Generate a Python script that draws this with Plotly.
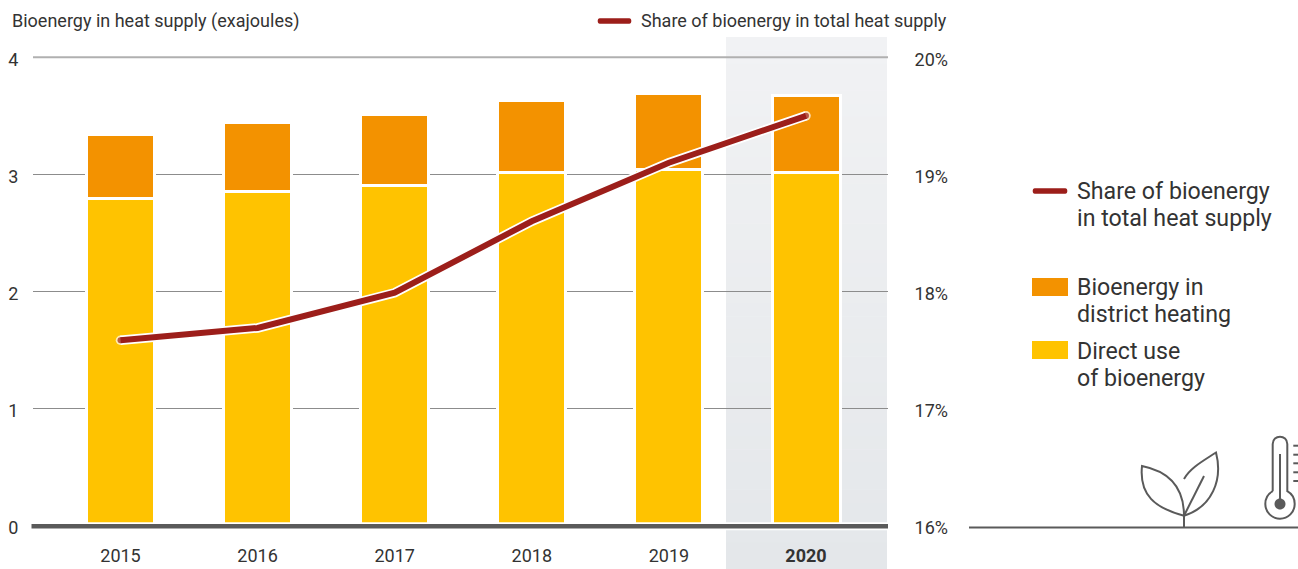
import plotly.graph_objects as go

years = ["2015", "2016", "2017", "2018", "2019", "2020"]
year_labels = ["2015", "2016", "2017", "2018", "2019", "<b>2020</b>"]
direct_use = [2.794, 2.858, 2.905, 3.02, 3.046, 3.02]
bio_total = [3.34, 3.443, 3.511, 3.63, 3.69, 3.673]
district = [round(t - d, 3) for t, d in zip(bio_total, direct_use)]
share = [17.585, 17.69, 17.99, 18.6, 19.1, 19.5]
left_ticks = [0, 1, 2, 3, 4]
right_ticks = [16, 17, 18, 19, 20]
right_labels = ["16%", "17%", "18%", "19%", "20%"]

ORANGE = "#F39200"
YELLOW = "#FFC300"
RED = "#9C1E1A"
TEXT = "#333333"
ICON = "#5A5A5A"
FONT = "Roboto"

W, H = 1298, 569
L, R, T, B = 33, 888, 37, 526
px = lambda x: (x - L) / (R - L)
py = lambda y: (B - y) / (B - T)


def path(fmt):
    """Convert an 'M x y C x y ...' pixel path to paper coordinates."""
    out, is_x = [], True
    for tok in fmt.split():
        if tok.isalpha():
            out.append(tok)
            is_x = True
        else:
            v = float(tok)
            out.append(f"{px(v) if is_x else py(v):.5f}")
            is_x = not is_x
    return " ".join(out)


def circle(cx, cy, r):
    k = 0.5523 * r
    return (f"M {cx-r} {cy} C {cx-r} {cy-k} {cx-k} {cy-r} {cx} {cy-r} "
            f"C {cx+k} {cy-r} {cx+r} {cy-k} {cx+r} {cy} "
            f"C {cx+r} {cy+k} {cx+k} {cy+r} {cx} {cy+r} "
            f"C {cx-k} {cy+r} {cx-r} {cy+k} {cx-r} {cy} Z")


fig = go.Figure()
bar_line = dict(color="white", width=3)
fig.add_bar(x=years, y=direct_use, marker=dict(color=YELLOW, line=bar_line), name="Direct use of bioenergy")
fig.add_bar(x=years, y=district, marker=dict(color=ORANGE, line=bar_line), name="Bioenergy in district heating")

ends = [1, 0, 0, 0, 0, 1]
fig.add_scatter(x=years, y=share, yaxis="y2", mode="lines+markers", showlegend=False,
                line=dict(color="white", width=9.5),
                marker=dict(color="white", size=[9.5 * e for e in ends], line=dict(width=0)))
fig.add_scatter(x=years, y=share, yaxis="y2", mode="lines+markers",
                name="Share of bioenergy in total heat supply",
                line=dict(color=RED, width=6),
                marker=dict(color=RED, size=[6 * e for e in ends], line=dict(width=0)))

shapes = []
# Highlight band for 2020 (vertical gradient built from thin slices)
n = 40
top_c, bot_c = (241, 242, 244), (228, 231, 234)
for i in range(n):
    t = i / (n - 1)
    c = tuple(round(a + (b - a) * t) for a, b in zip(top_c, bot_c))
    y0 = T + (569 - T) * i / n
    y1 = T + (569 - T) * (i + 1) / n + 0.5
    shapes.append(dict(type="rect", layer="below", xref="paper", yref="paper",
                       x0=px(726), x1=px(887), y0=py(y0), y1=py(min(y1, 569)),
                       fillcolor=f"rgb{c}", line=dict(width=0)))

# Top gridline and baseline
shapes.append(dict(type="line", layer="above", xref="paper", yref="y", x0=0, x1=1, y0=4, y1=4,
                   line=dict(color="#B0B0B0", width=2)))
shapes.append(dict(type="line", layer="above", xref="paper", yref="paper", x0=0, x1=1,
                   y0=py(526.3), y1=py(526.3), line=dict(color="white", width=8)))
shapes.append(dict(type="line", layer="above", xref="paper", yref="paper", x0=px(31.5), x1=1,
                   y0=py(526.3), y1=py(526.3), line=dict(color="#5A5A5A", width=4.5)))


def rounded_line(x0, x1, y, h):
    r = h / 2
    return (f"M {x0+r} {y-r} L {x1-r} {y-r} C {x1} {y-r} {x1} {y+r} {x1-r} {y+r} "
            f"L {x0+r} {y+r} C {x0} {y+r} {x0} {y-r} {x0+r} {y-r} Z")


for sw in (rounded_line(597, 632, 21, 5.5), rounded_line(1032, 1068, 191, 5.5)):
    shapes.append(dict(type="path", xref="paper", yref="paper", path=path(sw),
                       fillcolor=RED, line=dict(width=0)))
for y0, y1, col in ((278, 296, ORANGE), (341, 359, YELLOW)):
    shapes.append(dict(type="rect", xref="paper", yref="paper", x0=px(1032), x1=px(1068),
                       y0=py(y0), y1=py(y1), fillcolor=col, line=dict(width=0)))

# Ground line and icons
icon_line = dict(color=ICON, width=2)
icons = [
    "M 969 527.5 L 1298 527.5",
    "M 1184 528 L 1184 515.7",
    "M 1184 515.7 C 1184 490 1172 472 1142 466 C 1139 495 1155 508 1184 515.7",
    "M 1184 479 C 1190 468 1203 461 1216 452.5 C 1223 480 1212 507 1184 515.7",
    "M 1184 515.7 L 1204 476",
    "M 1272.7 491.2 L 1272.7 444 C 1272.7 434.3 1287.3 434.3 1287.3 444 L 1287.3 491.2 "
    "C 1291.9 493.8 1294.7 498.7 1294.7 504 C 1294.7 512.1 1288.1 518.7 1280 518.7 "
    "C 1271.9 518.7 1265.3 512.1 1265.3 504 C 1265.3 498.7 1268.1 493.8 1272.7 491.2",
    "M 1280 454 L 1280 500",
]
for p in icons:
    shapes.append(dict(type="path", xref="paper", yref="paper", path=path(p),
                       line=icon_line, fillcolor="rgba(0,0,0,0)"))
shapes.append(dict(type="path", xref="paper", yref="paper", path=path(circle(1280, 504, 5.5)),
                   fillcolor=ICON, line=dict(width=0)))
for y in (445.7, 454.7, 463.3, 472.3, 481):
    shapes.append(dict(type="line", xref="paper", yref="paper", x0=px(1293.3), x1=px(1298),
                       y0=py(y), y1=py(y), line=icon_line))


def text(x, y, s, size, anchor="left"):
    return dict(xref="paper", yref="paper", x=px(x), y=py(y), text=s, showarrow=False,
                xanchor=anchor, yanchor="middle", align="left",
                font=dict(family=FONT, size=size, color=TEXT), borderpad=0, borderwidth=0)


annotations = [
    text(12, 21, "Bioenergy in heat supply (exajoules)", 18),
    text(641, 21, "Share of bioenergy in total heat supply", 18),
    text(1077, 191, "Share of bioenergy", 23.2),
    text(1077, 218, "in total heat supply", 23.2),
    text(1077, 287, "Bioenergy in", 23.2),
    text(1077, 314, "district heating", 23.2),
    text(1077, 351, "Direct use", 23.2),
    text(1077, 378, "of bioenergy", 23.2),
]

tick_font = dict(family=FONT, size=18, color=TEXT)
fig.update_layout(
    width=W, height=H, autosize=False, barmode="stack", bargap=1 - 68 / 137.1,
    showlegend=False, paper_bgcolor="white", plot_bgcolor="rgba(0,0,0,0)",
    margin=dict(l=L, r=W - R, t=T, b=H - B, pad=0, autoexpand=False),
    shapes=shapes, annotations=annotations,
    xaxis=dict(type="category", categoryorder="array", categoryarray=years, automargin=False,
               range=[(L - 120.5) / 137.1, (R - 120.5) / 137.1],
               tickmode="array", tickvals=years, ticktext=year_labels, tickfont=tick_font,
               ticks="outside", ticklen=13, tickcolor="rgba(0,0,0,0)", showgrid=False,
               showline=False, zeroline=False, fixedrange=True),
    yaxis=dict(range=[0, (B - T) / 117.2], tickmode="array", tickvals=left_ticks, automargin=False,
               tickfont=tick_font, ticks="outside", ticklen=10, tickcolor="rgba(0,0,0,0)",
               showgrid=True, gridcolor="#8C8C8C", gridwidth=1, zeroline=False, showline=False,
               ticklabelshift=2),
    yaxis2=dict(overlaying="y", side="right", range=[16, 16 + (B - T) / 117.2], automargin=False,
                tickmode="array", tickvals=right_ticks, ticktext=right_labels, tickfont=tick_font,
                ticks="outside", ticklen=22, tickcolor="rgba(0,0,0,0)", showgrid=False,
                zeroline=False, showline=False, ticklabelshift=2),
)

fig.write_html("out.html", config={"displayModeBar": False},
               post_script="document.body.style.margin='0';document.body.style.overflow='hidden';")
